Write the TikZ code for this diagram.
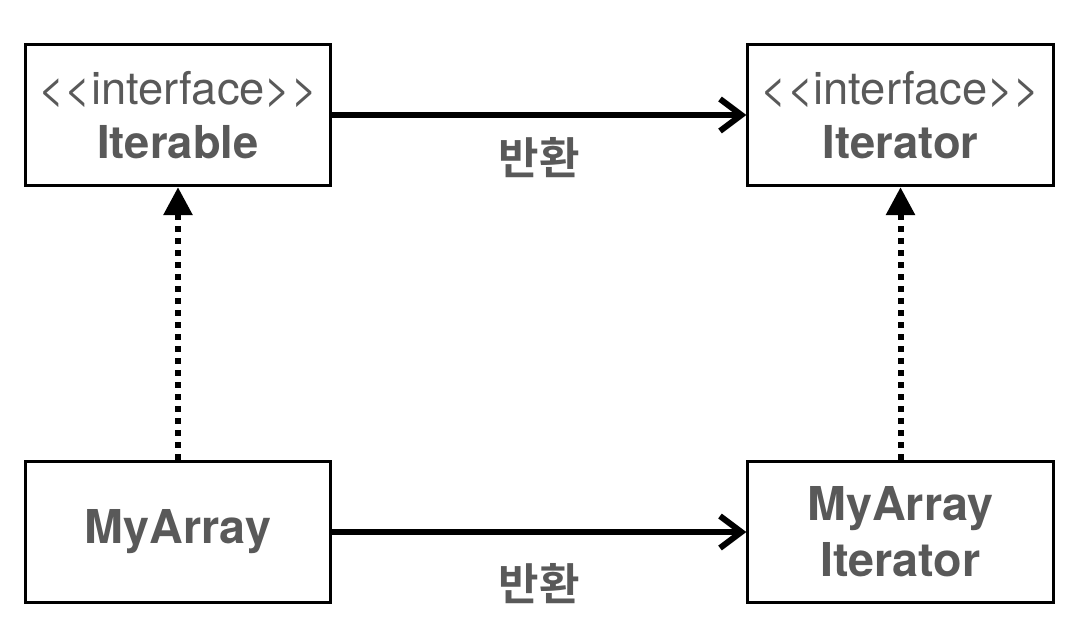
\documentclass[tikz,border=0pt]{standalone}
\usepackage{fontspec}
\setmainfont{TeX Gyre Heros}
\newfontfamily\krfont{Noto Sans CJK KR Bold}
\usepackage{xcolor}
\usetikzlibrary{arrows.meta,positioning}
\definecolor{txtgray}{HTML}{595959}

\begin{document}
\begin{tikzpicture}[
  x=0.75pt, y=-0.75pt,
  cls/.style={draw=black, line width=2.25pt, minimum width=229pt, minimum height=106pt,
    align=center, text=txtgray, inner sep=0pt},
  stereo/.style={font=\fontsize{34}{40}\selectfont},
  bold/.style={font=\fontsize{35}{42}\selectfont\bfseries},
  ret/.style={-{Straight Barb[length=16pt, width=24pt]}, line width=4.5pt},
  impl/.style={-{Triangle[length=21pt, width=21pt]}, line width=4.5pt, dash pattern=on 4.5pt off 4.5pt},
  rettext/.style={font=\krfont\fontsize{33}{33}\selectfont, text=txtgray},
]
\useasboundingbox (0,0) rectangle (1075,622);
\node[cls, stereo] (iterable) at (178, 115) {{<}{<}interface{>}{>}\\\textbf{Iterable}};
\node[cls, stereo] (iterator) at (900.5, 115) {{<}{<}interface{>}{>}\\\textbf{Iterator}};
\node[cls, bold] (myarray) at (178, 532) {MyArray};
\node[cls, bold] (myiter) at (900.5, 532) {MyArray\\Iterator};
\draw[ret] (iterable) -- node[rettext, yshift=-32pt] {반환} (iterator);
\draw[ret] (myarray) -- node[rettext, yshift=-39pt] {반환} (myiter);
\draw[impl] (myarray) -- (iterable);
\draw[impl] (myiter) -- (iterator);
\end{tikzpicture}
\end{document}
